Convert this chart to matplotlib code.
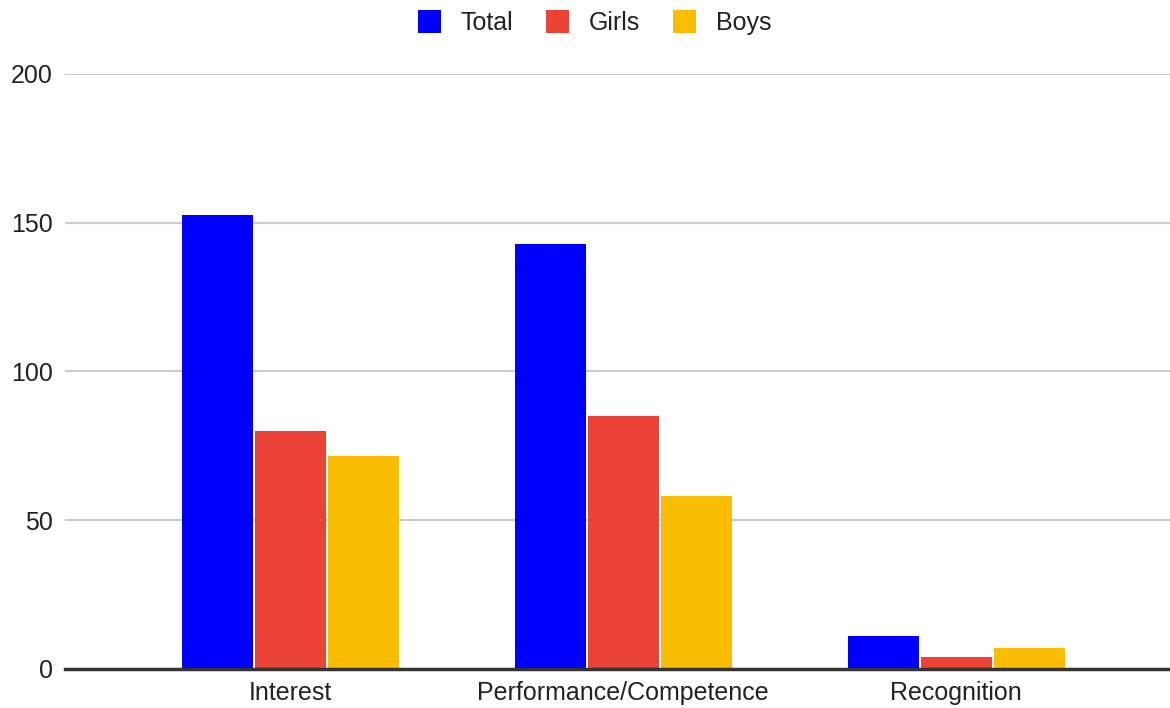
import numpy as np
import matplotlib
matplotlib.use("Agg")
import matplotlib.pyplot as plt

categories = ["Interest", "Performance/Competence", "Recognition"]
series_names = ["Total", "Girls", "Boys"]
total = [152.5, 143, 11]
girls = [80, 85, 4]
boys = [71.5, 58, 7]
colors = ["#0000ff", "#ea4335", "#fbbc04"]

plt.rcParams['font.family'] = ['Liberation Sans', 'DejaVu Sans']

fig = plt.figure(figsize=(11.7, 7.08), dpi=100)
ax = fig.add_axes([0.0556, 0.0551, 0.944, 0.8404])

x = np.arange(len(categories))
step = 0.219
width = 0.213
for i, (vals, name, c) in enumerate(zip([total, girls, boys], series_names, colors)):
    ax.bar(x + (i - 1) * step, vals, width, color=c, label=name, zorder=3)

ax.set_xlim(-0.676, 2.64)
ax.set_ylim(0, 200)
ax.set_yticks([0, 50, 100, 150, 200])
ax.set_xticks(x)
ax.set_xticklabels(categories)
ax.tick_params(axis='both', length=0, labelsize=18, colors='#222222')
ax.tick_params(axis='y', pad=9)
ax.tick_params(axis='x', pad=9)
ax.grid(axis='y', color='#cccccc', linewidth=1.5, zorder=0)
for s in ['top', 'right', 'left']:
    ax.spines[s].set_visible(False)
ax.spines['bottom'].set_color('#333333')
ax.spines['bottom'].set_linewidth(2.5)
ax.spines['bottom'].set_zorder(4)

leg = fig.legend(loc='upper center', bbox_to_anchor=(0.508, 1.018), ncol=3, frameon=False,
                 fontsize=18, handlelength=0.92, handleheight=1.05, handletextpad=0.8,
                 columnspacing=1.3)
for t in leg.get_texts():
    t.set_color('#222222')

fig.savefig("out.png", dpi=100)
